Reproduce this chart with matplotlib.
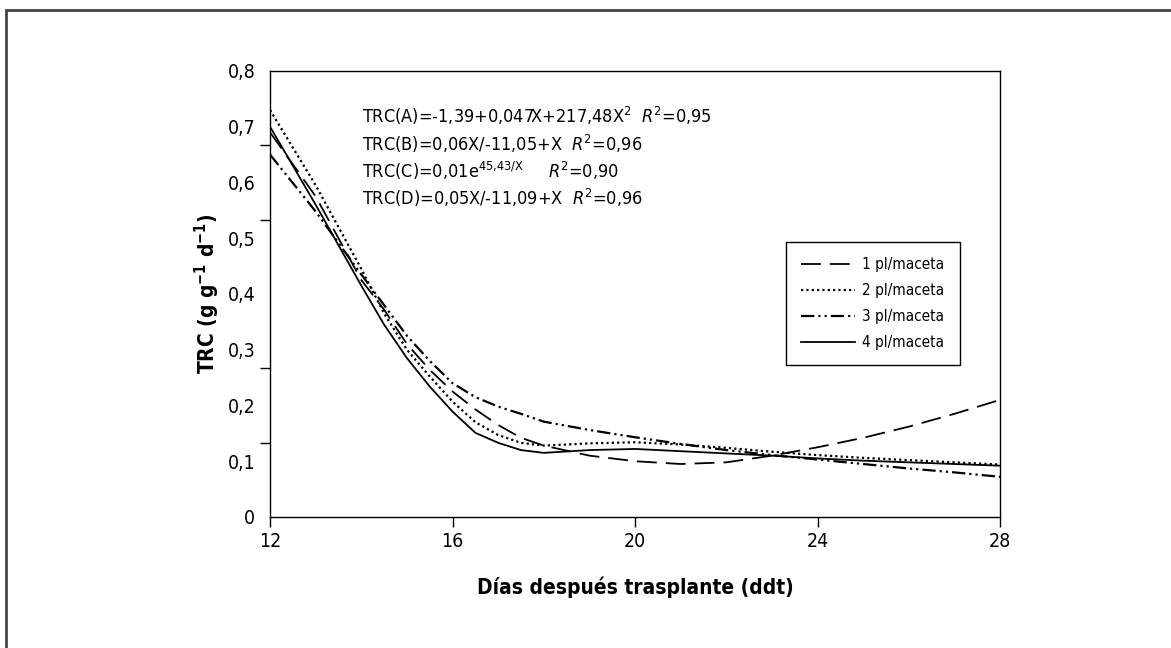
import numpy as np
import matplotlib
matplotlib.use("Agg")
import matplotlib.pyplot as plt
from matplotlib.patches import Rectangle

plt.rcParams['font.family'] = ['DejaVu Sans']
plt.rcParams['font.stretch'] = 'condensed'
plt.rcParams['mathtext.fontset'] = 'custom'
plt.rcParams['mathtext.rm'] = 'DejaVu Sans:stretch=condensed'
plt.rcParams['mathtext.it'] = 'DejaVu Sans:italic:stretch=condensed'
plt.rcParams['mathtext.bf'] = 'DejaVu Sans:bold:stretch=condensed'
plt.rcParams['mathtext.default'] = 'regular'

# datos
dias = [12, 13, 14, 14.5, 15, 15.5, 16, 16.5, 17, 17.5, 18, 19, 20, 21, 22, 23, 24, 25, 26, 27, 28]
trc_1pl = [0.69, 0.575, 0.425, 0.372, 0.31, 0.264, 0.225, 0.193, 0.165, 0.142, 0.128, 0.110, 0.100,
           0.095, 0.098, 0.110, 0.125, 0.142, 0.162, 0.185, 0.21]
trc_2pl = [0.73, 0.595, 0.445, 0.365, 0.30, 0.252, 0.207, 0.170, 0.147, 0.133, 0.128, 0.132, 0.134,
           0.130, 0.124, 0.117, 0.111, 0.106, 0.102, 0.098, 0.094]
trc_3pl = [0.65, 0.548, 0.435, 0.38, 0.325, 0.28, 0.24, 0.215, 0.198, 0.185, 0.171, 0.156, 0.143,
           0.131, 0.120, 0.111, 0.103, 0.095, 0.087, 0.080, 0.072]
trc_4pl = [0.70, 0.56, 0.415, 0.345, 0.285, 0.234, 0.189, 0.151, 0.133, 0.120, 0.115, 0.120, 0.122,
           0.118, 0.114, 0.110, 0.105, 0.101, 0.098, 0.095, 0.092]
etiquetas = ['1 pl/maceta', '2 pl/maceta', '3 pl/maceta', '4 pl/maceta']

ecuaciones = [
    r'TRC(A)=-1,39+0,047X+217,48X$^{2}$  $\mathit{R}^{2}$=0,95',
    r'TRC(B)=0,06X/-11,05+X  $\mathit{R}^{2}$=0,96',
    r'TRC(C)=0,01e$^{45{,}43/X}$     $\mathit{R}^{2}$=0,90',
    r'TRC(D)=0,05X/-11,09+X  $\mathit{R}^{2}$=0,96',
]
ecuaciones_y = [0.719, 0.669, 0.62, 0.573]

x_ticks = [12, 16, 20, 24, 28]
y_ticks = [0, 0.1, 0.2, 0.3, 0.4, 0.5, 0.6, 0.7, 0.8]
y_labels = ['0', '0,1', '0,2', '0,3', '0,4', '0,5', '0,6', '0,7', '0,8']

fig = plt.figure(figsize=(11.71, 6.48), dpi=100)
ax = fig.add_axes([0.2306, 0.2022, 0.6234, 0.6883])

ax.plot(dias, trc_1pl, color='black', lw=1.3, dashes=(11, 5), label=etiquetas[0])
ax.plot(dias, trc_2pl, color='black', lw=1.6, dashes=(1, 1.4), label=etiquetas[1])
ax.plot(dias, trc_3pl, color='black', lw=1.6, dashes=(6, 1.8, 1, 1.8, 1, 1.8), label=etiquetas[2])
ax.plot(dias, trc_4pl, color='black', lw=1.3, label=etiquetas[3])

ax.set_xlim(12, 28)
ax.set_ylim(0, 0.8)
ax.set_xticks(x_ticks)
ax.set_xticklabels([str(v) for v in x_ticks])
ax.set_yticks(y_ticks)
ax.set_yticklabels(y_labels)
ax.set_yticks(np.linspace(0, 0.8, 7), minor=True)
ax.tick_params(axis='y', which='major', length=0, pad=10.5, labelsize=14)
ax.tick_params(axis='y', which='minor', length=7, width=1, direction='out')
ax.tick_params(axis='x', which='major', length=7, width=1, direction='out', pad=4, labelsize=14)
for s in ax.spines.values():
    s.set_linewidth(1)

ax.set_xlabel('Días después trasplante (ddt)', fontsize=15, fontweight='bold', labelpad=18)
ax.set_ylabel(r'TRC (g g$^{\mathbf{-1}}$ d$^{\mathbf{-1}}$)', fontsize=15, fontweight='bold', labelpad=4)

for txt, yy in zip(ecuaciones, ecuaciones_y):
    ax.text(14.02, yy, txt, fontsize=13, va='center', ha='left')

leg = ax.legend(loc='upper right', bbox_to_anchor=(0.945, 0.617), borderaxespad=0,
                fontsize=11, handlelength=3.5, labelspacing=0.72, fancybox=False,
                edgecolor='black', framealpha=1, borderpad=1.0, handletextpad=0.5)
leg.get_frame().set_linewidth(1)

# marco exterior
fig.add_artist(Rectangle((6 / 1171, -0.1), 1.2, 1.1 - 10 / 648, transform=fig.transFigure,
                         fill=False, lw=2, ec='#444444'))

fig.savefig('out.png', dpi=100)
